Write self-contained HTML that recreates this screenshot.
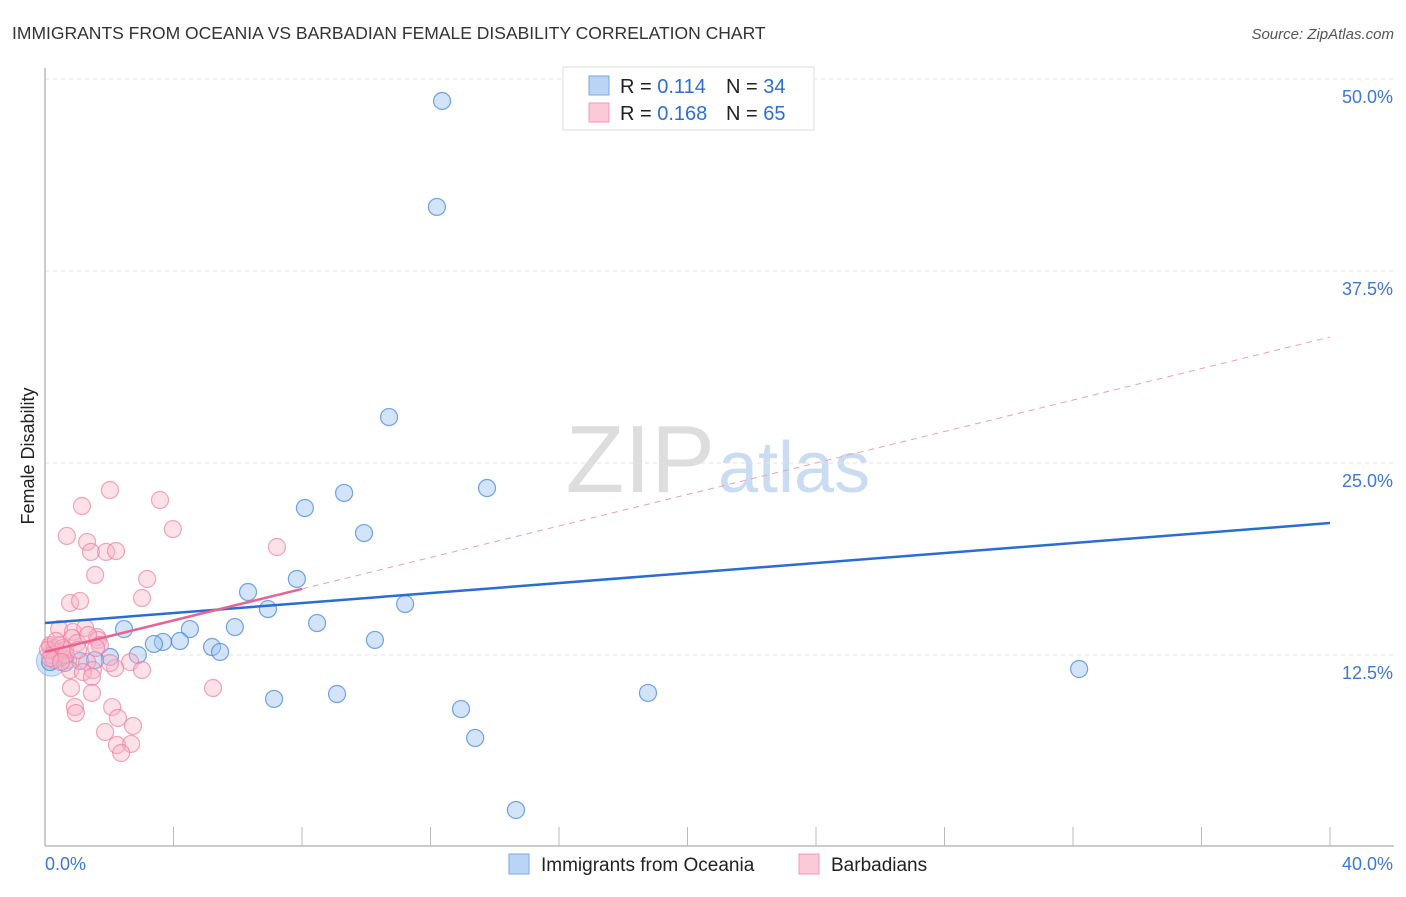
<!DOCTYPE html>
<html><head><meta charset="utf-8"><style>
body{margin:0;background:#fff;font-family:"Liberation Sans",sans-serif;}
svg text{font-family:"Liberation Sans",sans-serif;}
</style></head><body>
<svg id="chart" width="1406" height="892">
<text x="12" y="39" font-size="17.5" fill="#333">IMMIGRANTS FROM OCEANIA VS BARBADIAN FEMALE DISABILITY CORRELATION CHART</text>
<text x="1394" y="39" font-size="15" fill="#555" font-style="italic" text-anchor="end">Source: ZipAtlas.com</text>
<text x="34" y="456" font-size="18" fill="#222" text-anchor="middle" transform="rotate(-90 34 456)">Female Disability</text>
<text x="715" y="492" font-size="96" fill="#ddd" text-anchor="end" font-family="Liberation Serif">ZIP</text>
<text x="718" y="492" font-size="72" fill="#c9dcf2">atlas</text>
<g id="grid"></g><g id="trend"></g><g id="pts"></g>
<g>
<rect x="563" y="67" width="251" height="63" fill="#fff" stroke="#ddd"/>
<rect x="589" y="76" width="20" height="19" fill="#b9d4f5" stroke="#7aa7e0"/>
<rect x="589" y="103" width="20" height="19" fill="#fcc9d8" stroke="#f09ab5"/>
<text x="620" y="93" font-size="20" fill="#222">R = <tspan fill="#2c6fd1">0.114</tspan></text>
<text x="726" y="93" font-size="20" fill="#222">N = <tspan fill="#2c6fd1">34</tspan></text>
<text x="620" y="120" font-size="20" fill="#222">R = <tspan fill="#2c6fd1">0.168</tspan></text>
<text x="726" y="120" font-size="20" fill="#222">N = <tspan fill="#2c6fd1">65</tspan></text>
</g>
<g>
<rect x="509" y="854" width="20" height="20" fill="#b9d4f5" stroke="#7aa7e0"/>
<text x="541" y="871" font-size="19" fill="#222">Immigrants from Oceania</text>
<rect x="799" y="854" width="20" height="20" fill="#fcc9d8" stroke="#f09ab5"/>
<text x="831" y="871" font-size="19" fill="#222">Barbadians</text>
</g>
</svg>
<script>
const yTicks=[12.5,25,37.5,50];
const yTickLabels=["12.5%","25.0%","37.5%","50.0%"];
const xTicks=[0,4,8,12,16,20,24,28,32,36,40];
const xTickLabels=["0.0%","40.0%"];
const blueX=[12.36,12.20,10.71,13.76,9.31,8.09,9.93,7.84,6.32,6.94,11.21,8.47,5.91,4.51,2.46,10.27,4.20,3.67,3.39,5.20,5.45,2.89,2.02,1.09,0.62,0.16,32.19,18.77,7.13,9.09,12.95,13.39,14.66,1.56];
const blueY=[48.57,41.67,27.99,23.37,23.05,22.07,20.44,17.45,16.60,15.49,15.82,14.58,14.32,14.19,14.19,13.48,13.41,13.35,13.22,13.02,12.70,12.50,12.37,12.11,11.98,12.04,11.59,10.03,9.64,9.96,8.98,7.10,2.41,12.17];
const pinkX=[2.02,1.15,3.58,3.98,0.68,1.31,1.43,1.90,2.21,7.22,1.56,3.18,0.78,1.09,3.02,0.44,0.87,1.25,1.62,1.65,0.84,1.00,0.25,0.37,0.53,0.16,0.72,1.31,1.49,2.18,2.65,3.02,0.78,1.18,1.46,2.02,5.23,0.81,1.46,0.93,0.96,2.09,2.27,2.74,1.87,2.24,2.68,2.37,0.16,0.31,0.47,0.22,0.40,0.62,0.09,0.28,0.56,0.34,0.65,0.16,0.50,1.34,1.03,1.71,1.59];
const pinkY=[23.24,22.20,22.59,20.70,20.25,19.86,19.21,19.21,19.27,19.53,17.71,17.45,15.89,16.02,16.21,14.19,14.00,14.26,13.67,13.48,13.61,13.28,12.83,12.63,12.37,13.02,12.17,12.04,11.52,11.65,12.04,11.52,11.52,11.39,11.07,11.98,10.35,10.35,10.03,9.11,8.72,9.11,8.40,7.88,7.49,6.64,6.71,6.12,13.15,12.96,13.15,12.50,12.70,12.83,12.83,12.17,12.96,13.41,12.50,12.30,12.04,13.80,12.83,13.15,12.96];
const blueTrend=[14.58,21.09]; // y at x=0 and x=40
const pinkTrend=[12.70,33.2];
const pinkSolidEnd=8;
const X=v=>45+v*32.125, Y=v=>847-v*15.36;
const NS="http://www.w3.org/2000/svg";
function mk(tag,attrs,parent){const e=document.createElementNS(NS,tag);for(const k in attrs)e.setAttribute(k,attrs[k]);parent.appendChild(e);return e;}
const grid=document.getElementById('grid');
yTicks.forEach((t,i)=>{
 const l=mk('line',{x1:45,x2:1394,y1:Y(t),y2:Y(t),stroke:'#e2e2e2','stroke-dasharray':'4,4'},grid);
 
 
 const tx=mk('text',{x:1393,y:Y(t)+24,'font-size':18,fill:'#3b78d8','text-anchor':'end'},grid);
 tx.textContent=yTickLabels[i];
 
 
});
const ax=mk('line',{x1:45,x2:1394,y1:846,y2:846,stroke:'#bbb','stroke-width':1.5},grid);


const ay=mk('line',{x1:45,x2:45,y1:68,y2:846,stroke:'#bbb','stroke-width':1.5},grid);


xTicks.forEach(t=>{const l=mk('line',{x1:X(t),x2:X(t),y1:827,y2:846,stroke:'#bbb'},grid);
 
 });
[[0,'start'],[40,'end']].forEach((p,i)=>{const tx=mk('text',{x:i?1393:45,y:870,'font-size':18,fill:'#3b78d8','text-anchor':p[1]},grid);
 tx.textContent=xTickLabels[i];
 
 });
const pts=document.getElementById('pts');
const bb=mk('circle',{cx:X(0.2),cy:Y(12.1),r:15,fill:'rgba(160,196,240,0.45)',stroke:'rgba(90,150,225,0.5)'},pts);


blueX.forEach((x,i)=>{const c=mk('circle',{cx:X(x),cy:Y(blueY[i]),r:8.5,fill:'rgba(160,196,240,0.45)',stroke:'rgba(70,135,220,0.75)','stroke-width':1.2},pts);
 
 });
pinkX.forEach((x,i)=>{const c=mk('circle',{cx:X(x),cy:Y(pinkY[i]),r:8.5,fill:'rgba(248,180,200,0.4)',stroke:'rgba(235,120,155,0.65)','stroke-width':1.2},pts);
 
 });
const tr=document.getElementById('trend');
const pl=(v,t)=>t[0]+(t[1]-t[0])*v/40;
let l1=mk('line',{x1:X(pinkSolidEnd),y1:Y(pl(pinkSolidEnd,pinkTrend)),x2:X(40),y2:Y(pinkTrend[1]),stroke:'#eaa0b8','stroke-dasharray':'6,5','stroke-width':1},tr);


let l2=mk('line',{x1:X(0),y1:Y(blueTrend[0]),x2:X(40),y2:Y(blueTrend[1]),stroke:'#2a6dd2','stroke-width':2.5},pts);


let l3=mk('line',{x1:X(0),y1:Y(pinkTrend[0]),x2:X(pinkSolidEnd),y2:Y(pl(pinkSolidEnd,pinkTrend)),stroke:'#e8638f','stroke-width':2.5},pts);


</script>
</body></html>
